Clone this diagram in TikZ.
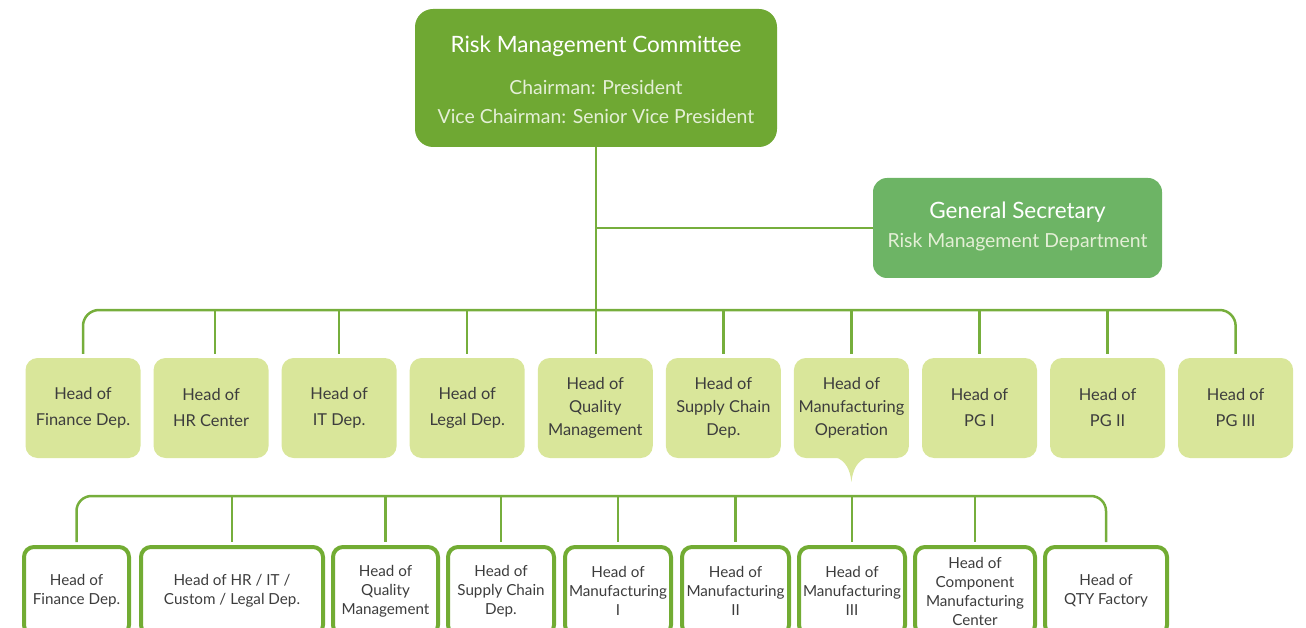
\documentclass[tikz,border=0pt]{standalone}
\usepackage{fontspec}
\setmainfont{Lato}
\usetikzlibrary{calc}
\definecolor{topg}{HTML}{6FA833}
\definecolor{gsg}{HTML}{6DB465}
\definecolor{lineg}{HTML}{76AE3C}
\definecolor{lightg}{HTML}{D9E69A}
\definecolor{bordg}{HTML}{72AC33}
\definecolor{txt}{HTML}{3D3D3D}
\definecolor{subw}{HTML}{E4EFD6}
\begin{document}
\begin{tikzpicture}[x=1pt,y=-1pt,
  conn/.style={draw=lineg,line width=2.5pt},
  topbox/.style={fill=topg,rounded corners=18pt,minimum width=362pt,minimum height=138pt,inner sep=0pt},
  gsbox/.style={fill=gsg,rounded corners=14pt,minimum width=289pt,minimum height=100pt,inner sep=0pt},
  headbox/.style={fill=lightg,rounded corners=12pt,minimum width=115pt,minimum height=100pt,inner sep=0pt,
    align=center,text=txt,font=\fontsize{16.4}{26}\selectfont},
  headthree/.style={headbox,font=\fontsize{16.4}{23}\selectfont},
  subbox/.style={draw=bordg,line width=4pt,fill=white,rounded corners=10pt,minimum height=88pt,inner sep=0pt,
    align=center,text=txt,font=\fontsize{15.2}{19}\selectfont},
  wtitle/.style={anchor=base,text=white,font=\fontsize{22.5}{22.5}\selectfont},
  wsub/.style={anchor=base,text=subw,font=\fontsize{19.4}{19.4}\selectfont}
]
\useasboundingbox (0,0) rectangle (1306,628);
\clip (0,0) rectangle (1306,628);

% top committee
\node[topbox] (rmc) at (596,78) {};
\node[wtitle] (rmct) at (596,53) {Risk Management Committee};
\node[wsub] (rmcc) at (596,95) {Chairman: President};
\node[wsub] (rmcv) at (596,124) {Vice Chairman: Senior Vice President};

% general secretary
\node[gsbox] (gs) at (1017.5,228) {};
\node[wtitle] (gst) at (1017.5,219) {General Secretary};
\node[wsub] (gss) at (1017.5,248) {Risk Management Department};

% row 1
\node[headbox] (f1) at (83,408) {Head of\\Finance Dep.};
\node[headbox] (f2) at (211.07,408) {Head of\\HR Center};
\node[headbox] (f3) at (339.14,408) {Head of\\IT Dep.};
\node[headbox] (f4) at (467.21,408) {Head of\\Legal Dep.};
\node[headthree] (f5) at (595.28,408) {Head of\\Quality\\Management};
\node[headthree] (f6) at (723.35,408) {Head of\\Supply Chain\\Dep.};
\node[headthree] (f7) at (851.42,408) {Head of\\Manufacturing\\Operation};
\node[headbox] (f8) at (979.49,408) {Head of\\PG I};
\node[headbox] (f9) at (1107.56,408) {Head of\\PG II};
\node[headbox] (f10) at (1235.63,408) {Head of\\PG III};

% pointer under manufacturing operation
\fill[lightg] ($(f7.south)+(-16,-1)$) .. controls ($(f7.south)+(-6,2)$) and ($(f7.south)+(-1,12)$) .. ($(f7.south)+(0,24)$)
  .. controls ($(f7.south)+(1,12)$) and ($(f7.south)+(6,2)$) .. ($(f7.south)+(16,-1)$) -- cycle;

% row 2
\node[subbox,minimum width=105pt] (g1) at (76.5,591) {Head of\\Finance Dep.};
\node[subbox,minimum width=182pt] (g2) at (232,591) {Head of HR / IT /\\Custom / Legal Dep.};
\node[subbox,minimum width=105pt] (g3) at (385.5,591) {Head of\\Quality\\Management};
\node[subbox,minimum width=106pt] (g4) at (501,591) {Head of\\Supply Chain\\Dep.};
\node[subbox,minimum width=106pt] (g5) at (618,591) {Head of\\Manufacturing\\I};
\node[subbox,minimum width=107pt] (g6) at (735.5,591) {Head of\\Manufacturing\\II};
\node[subbox,minimum width=106pt] (g7) at (852,591) {Head of\\Manufacturing\\III};
\node[subbox,minimum width=120pt] (g8) at (975,591) {Head of\\Component\\Manufacturing\\Center};
\node[subbox,minimum width=122pt] (g9) at (1106,591) {Head of\\QTY Factory};

% connectors: committee
\draw[conn,shorten >=4pt] (rmc.south) -- (rmc.south |- f5.north);
\draw[conn] (rmc.south |- gs.west) -- (gs.west);

% bus row 1
\draw[conn,rounded corners=16pt,shorten <=4pt,shorten >=4pt] (f1.north) -- (f1.north |- 0,310) -- (f10.north |- 0,310) -- (f10.north);
\draw[conn,shorten >=4pt] ($(f2.north |- 0,310)+(4,0)$) -- ($(f2.north)+(4,0)$);
\foreach \n in {f3,f4,f6,f7,f8,f9}{
  \draw[conn,shorten >=4pt] (\n.north |- 0,310) -- (\n.north);
}

% bus row 2
\draw[conn,rounded corners=15pt,shorten <=3pt,shorten >=3pt] (g1.north) -- (g1.north |- 0,496) -- (g9.north |- 0,496) -- (g9.north);
\foreach \n in {g2,g3,g4,g5,g6,g7,g8}{
  \draw[conn,shorten >=3pt] (\n.north |- 0,496) -- (\n.north);
}
\end{tikzpicture}
\end{document}
